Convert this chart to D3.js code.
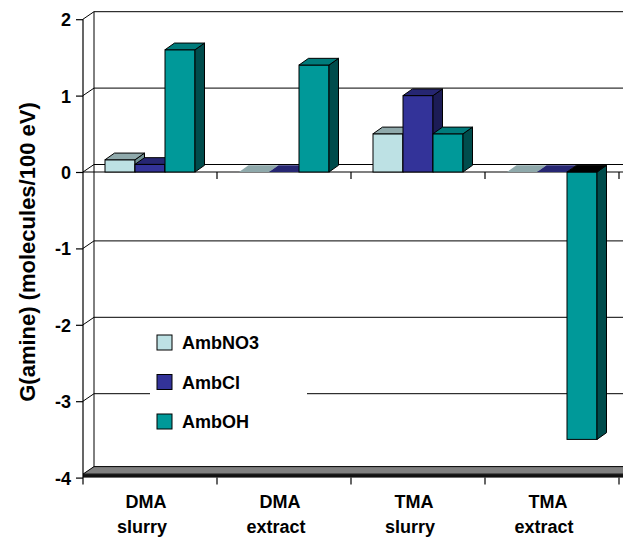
<!DOCTYPE html>
<html>
<head>
<meta charset="utf-8">
<script src="https://cdn.jsdelivr.net/npm/d3@7"></script>
<style>
  html, body { margin: 0; padding: 0; background: #fff; }
  svg { display: block; }
  text { font-family: "Liberation Sans", Arial, sans-serif; font-weight: bold; fill: #000; }
</style>
</head>
<body>
<svg id="chart" width="623" height="538"></svg>
<script>
// Radiolytic amine yields per sample and anion-exchange resin form
const categories = ["DMA slurry", "DMA extract", "TMA slurry", "TMA extract"];
const seriesNames = ["AmbNO3", "AmbCl", "AmbOH"];
const ambNO3 = [0.16, 0, 0.5, 0];
const ambCl  = [0.1, 0, 1.0, 0];
const ambOH  = [1.6, 1.4, 0.5, -3.5];
const yTicks = [2, 1, 0, -1, -2, -3, -4];
const yTitle = "G(amine) (molecules/100 eV)";

const seriesValues = [ambNO3, ambCl, ambOH];
const faceColors = [
  { front: "#bde1e4", top: "#8fa9ab", side: "#6f8f91" },
  { front: "#333399", top: "#262672", side: "#1c1c56" },
  { front: "#009999", top: "#007b7b", side: "#004c4c" }
];

const svg = d3.select("#chart");

// 3-D layout: front plane plus an oblique depth offset
const frontLeft = 83, frontRight = 619, clipRight = 640;
const DX = 11, DY = -7.5;      // wall depth
const BDX = 9.5, BDY = -6.7;   // bar depth

const y = d3.scaleLinear().domain([-4, 2]).range([477.6, 19.2]);
const x = d3.scaleBand().domain(categories).range([frontLeft, frontRight]);
const xs = d3.scaleBand().domain(seriesNames).range([22, 112]);

const poly = pts => "M" + pts.map(p => p.join(",")).join("L") + "Z";

// Back wall gridlines
const g = svg.append("g");
const yMin = y.domain()[0], yMax = y.domain()[1];
g.selectAll("line.grid").data(yTicks.filter(t => t > yMin)).enter().append("line")
  .attr("x1", frontLeft + DX).attr("x2", clipRight)
  .attr("y1", d => y(d) + DY).attr("y2", d => y(d) + DY)
  .attr("stroke", "#000").attr("stroke-width", 1);
// Side wall gridlines
g.selectAll("line.side").data(yTicks.filter(t => t > yMin)).enter().append("line")
  .attr("x1", frontLeft).attr("x2", frontLeft + DX)
  .attr("y1", d => y(d)).attr("y2", d => y(d) + DY)
  .attr("stroke", "#000").attr("stroke-width", 1);
// Back wall left edge
g.append("line")
  .attr("x1", frontLeft + DX).attr("x2", frontLeft + DX)
  .attr("y1", y(yMax) + DY).attr("y2", y(yMin) + DY)
  .attr("stroke", "#000").attr("stroke-width", 1);

// Floor slab at the bottom of the value range
const fy = y(yMin), thick = 3.5;
g.append("path")
  .attr("d", poly([[frontLeft, fy - thick], [frontLeft + DX, fy - thick + DY],
                   [clipRight, fy - thick + DY], [clipRight, fy - thick]]))
  .attr("fill", "#808080").attr("stroke", "#000").attr("stroke-width", 1);
g.append("rect")
  .attr("x", frontLeft).attr("y", fy - thick)
  .attr("width", clipRight - frontLeft).attr("height", thick)
  .attr("fill", "#111");

// Value axis
g.append("line")
  .attr("x1", frontLeft).attr("x2", frontLeft)
  .attr("y1", y(yMax)).attr("y2", y(yMin) + 7)
  .attr("stroke", "#000").attr("stroke-width", 1.2);
const yAxis = d3.axisLeft(y).tickValues(yTicks).tickSize(7).tickPadding(5)
  .tickFormat(d => String(d));
const ya = svg.append("g").attr("transform", `translate(${frontLeft},0)`).call(yAxis);
ya.select(".domain").remove();
ya.selectAll("line").attr("stroke", "#000").attr("stroke-width", 1.2);
ya.selectAll("text").attr("font-size", 18).attr("font-family", null)
  .attr("dy", "0.36em");

// Category axis line at zero with boundary ticks
const y0 = y(0);
g.append("line").attr("x1", frontLeft).attr("x2", clipRight)
  .attr("y1", y0).attr("y2", y0).attr("stroke", "#000").attr("stroke-width", 1.2);
const bounds = categories.map(c => x(c) + x.bandwidth());
g.selectAll("line.ct0").data(bounds).enter().append("line")
  .attr("x1", d => d).attr("x2", d => d).attr("y1", y0).attr("y2", y0 + 7)
  .attr("stroke", "#000").attr("stroke-width", 1.2);
g.selectAll("line.ctb").data(bounds).enter().append("line")
  .attr("x1", d => d).attr("x2", d => d).attr("y1", fy).attr("y2", fy + 7)
  .attr("stroke", "#000").attr("stroke-width", 1.2);

// Bars: front, top and right side faces, drawn left to right
const bars = svg.append("g");
categories.forEach((c, ci) => {
  seriesNames.forEach((s, si) => {
    const v = seriesValues[si][ci];
    const col = faceColors[si];
    const xl = x(c) + xs(s), xr = xl + xs.bandwidth();
    const yt = y(Math.max(v, 0)), yb = y(Math.min(v, 0));
    if (v !== 0) {
      bars.append("rect").attr("x", xl).attr("y", yt)
        .attr("width", xr - xl).attr("height", yb - yt)
        .attr("fill", col.front).attr("stroke", "#000").attr("stroke-width", 1);
      bars.append("path")
        .attr("d", poly([[xr, yt], [xr + BDX, yt + BDY], [xr + BDX, yb + BDY], [xr, yb]]))
        .attr("fill", col.side).attr("stroke", "#000").attr("stroke-width", 1);
    }
    bars.append("path")
      .attr("d", poly([[xl, yt], [xl + BDX, yt + BDY], [xr + BDX, yt + BDY], [xr, yt]]))
      .attr("fill", v < 0 ? "#000" : col.top)
      .attr("stroke", v === 0 ? "none" : "#000").attr("stroke-width", 1);
  });
});

// Category labels (two lines each)
const cl = svg.append("g");
categories.forEach(c => {
  const parts = c.split(" ");
  const cx = x(c) + x.bandwidth() / 2;
  cl.append("text").attr("x", cx - 4).attr("y", 508).attr("text-anchor", "middle")
    .attr("font-size", 18).text(parts[0]);
  cl.append("text").attr("x", cx - 8).attr("y", 533).attr("text-anchor", "middle")
    .attr("font-size", 18).text(parts[1]);
});

// Value axis title
svg.append("text")
  .attr("transform", "translate(35,252) rotate(-90)")
  .attr("text-anchor", "middle").attr("font-size", 22).text(yTitle);

// Legend
const lg = svg.append("g");
lg.append("rect").attr("x", 150).attr("y", 325).attr("width", 157).attr("height", 115)
  .attr("fill", "#fff");
seriesNames.forEach((s, i) => {
  const ry = 335 + i * 39.5;
  lg.append("rect").attr("x", 157).attr("y", ry).attr("width", 15).attr("height", 15)
    .attr("fill", faceColors[i].front).attr("stroke", "#000").attr("stroke-width", 1);
  lg.append("text").attr("x", 182).attr("y", ry + 14).attr("font-size", 18).text(s);
});
</script>
</body>
</html>
